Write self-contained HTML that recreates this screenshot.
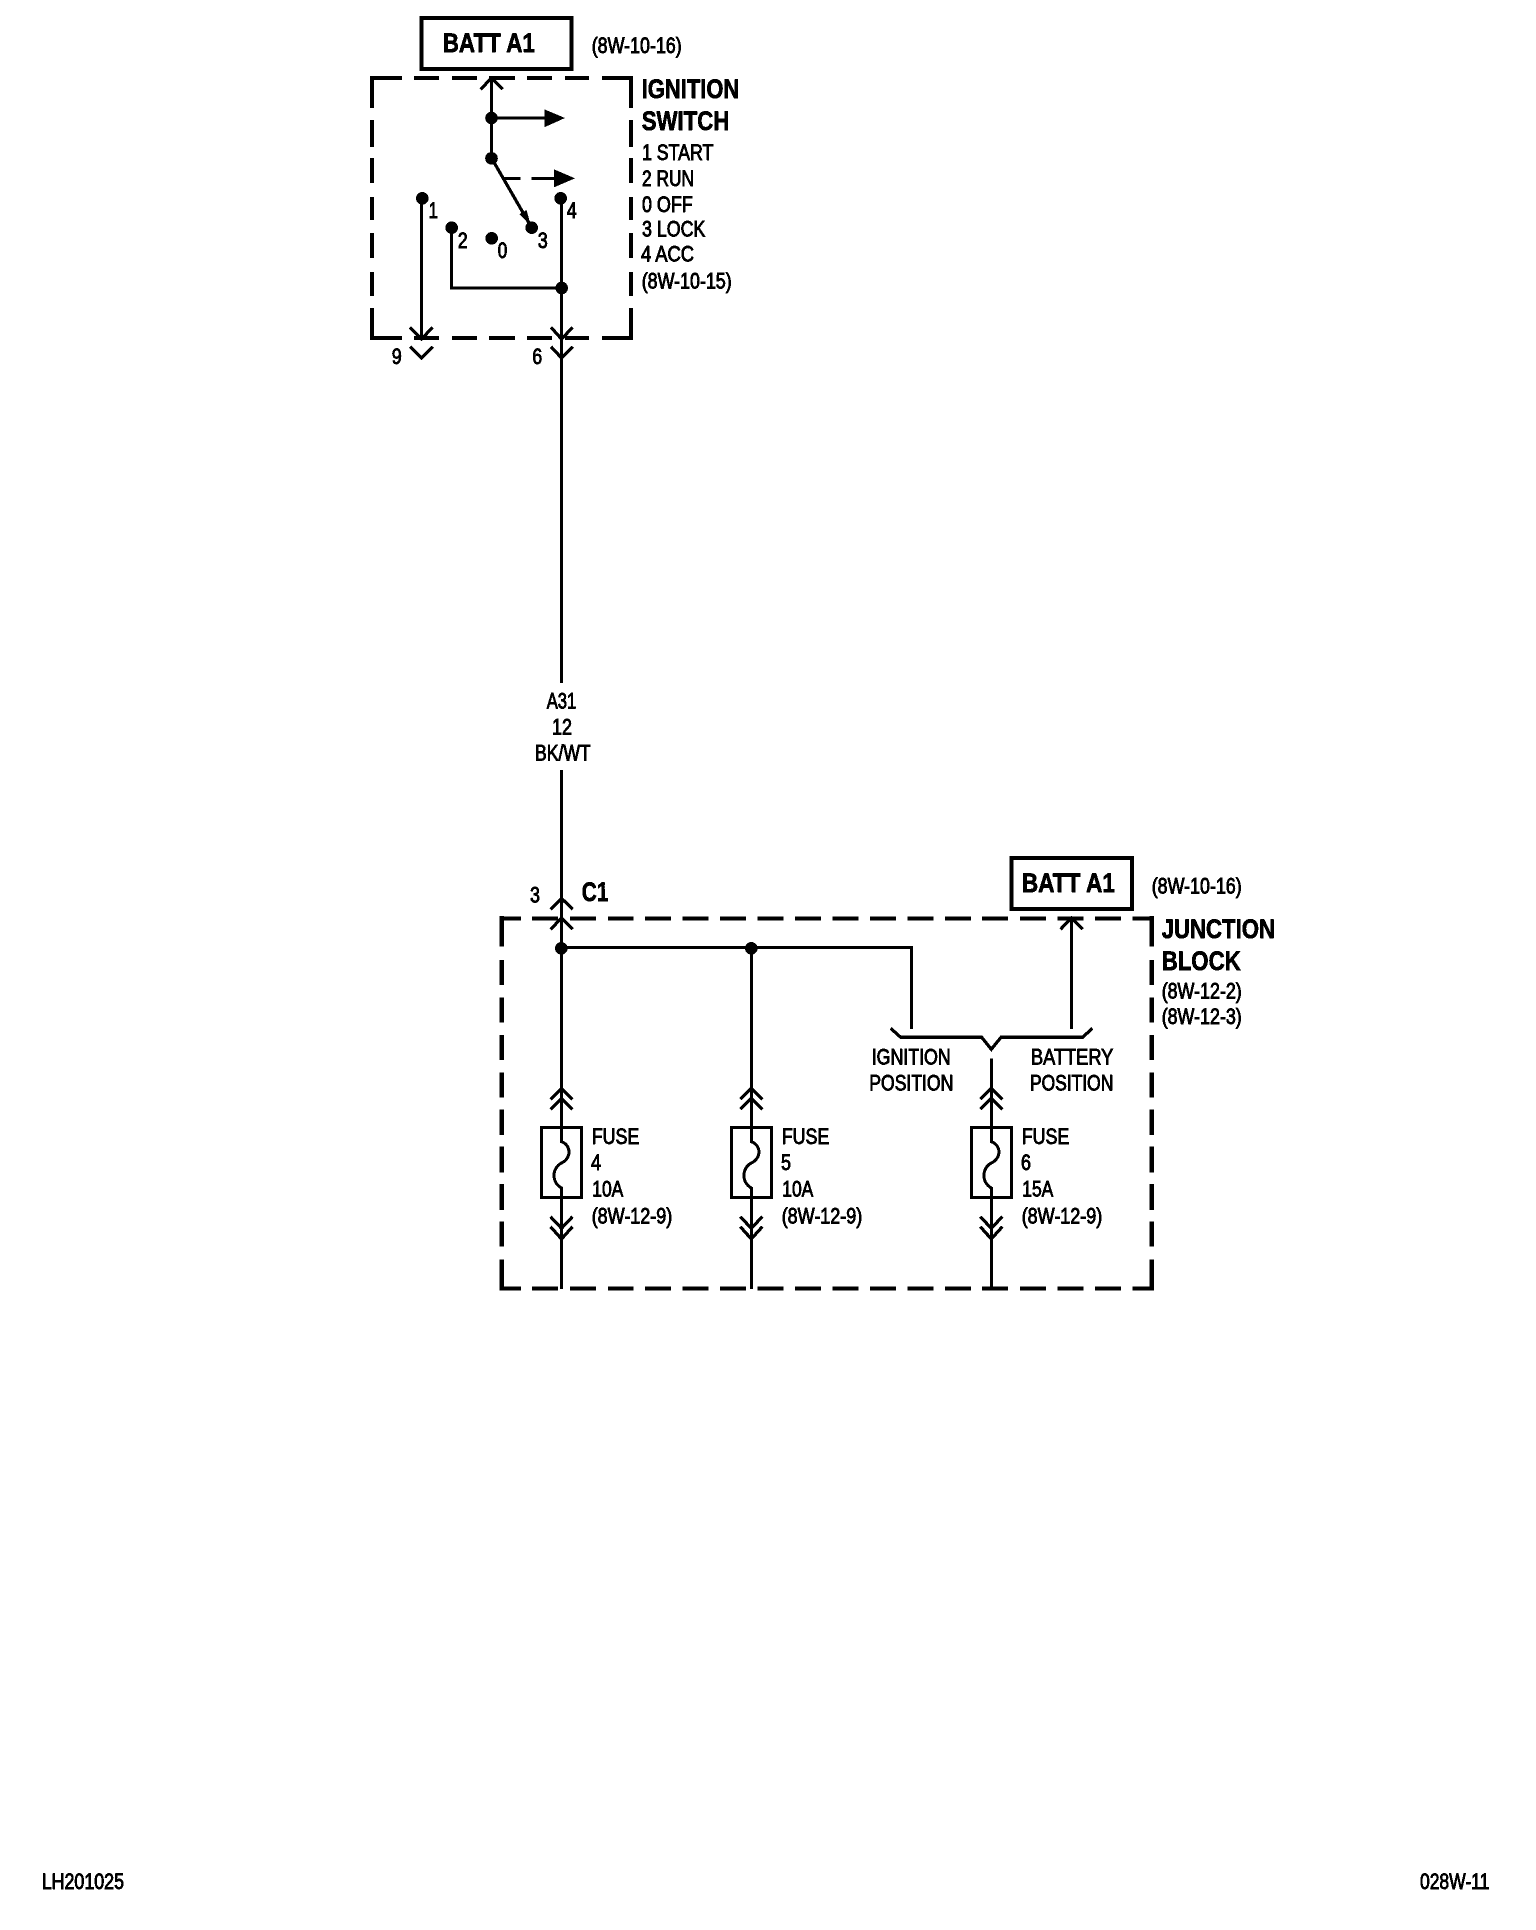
<!DOCTYPE html>
<html><head><meta charset="utf-8"><style>
html,body{margin:0;padding:0;background:#fff}
svg{display:block}
text{font-family:"Liberation Sans",Arial,sans-serif;fill:#000;stroke:#000;stroke-width:.75px}
.r{font-size:22px}
.b{font-size:26.5px;font-weight:bold;stroke-width:.55px}
.w{fill:none;stroke:#000;stroke-width:3}
.c{fill:none;stroke:#000;stroke-width:3.2}
.d{fill:none;stroke:#000;stroke-width:4.4}
</style></head><body>
<svg xmlns="http://www.w3.org/2000/svg" width="1536" height="1930" viewBox="0 0 1536 1930">
<defs><filter id="alias" filterUnits="userSpaceOnUse" x="0" y="0" width="1536" height="1930" color-interpolation-filters="sRGB"><feComponentTransfer><feFuncA type="discrete" tableValues="0 1 1"/></feComponentTransfer></filter></defs>
<rect width="1536" height="1930" fill="#fff"/>
<g shape-rendering="crispEdges">
<rect x="421.5" y="18" width="150" height="51" class="d"/>
<path class="d" d="M369.8 78H402M414 78H439M452 78H477M489 78H515M527 78H552M565 78H589M602 78H633
M633 338H602M589 338H565M552 338H527M515 338H489M477 338H452M439 338H414M402 338H369.8
M372 76V108M372 120V147M372 158V183M372 197V220M372 233V258M372 272V296M372 308V340
M631 76V108M631 120V147M631 158V183M631 197V220M631 233V258M631 272V296M631 308V340"/>
<path class="w" d="M491.5 78V158M491.5 118H545M503 178.3H520.7M531.7 178.3H555
M421.5 198V339M451.7 228V288H561.5M561.5 198V683M561.5 770V1289
M561.5 947.5H911.7V1029M751.3 948V1289M1071.5 918.5V1029
M991.3 1058.3V1289"/>
<path class="c" d="M491.5 158L531.7 227.7
M480.7 89.3L491.5 78L502.7 89.3
M410 327.3L421.5 339L432.7 327.3M410 346.7L421.5 358L432.7 346.7
M551 327.3L561.5 339L572.7 327.3M551 346.7L561.5 358L572.7 346.7
M550.7 909.3L561.5 898.3L572.7 909.3M550.7 929.3L561.5 918L572.7 929.3
M1060.5 929.3L1071.5 918L1082.7 929.3
M890.7 1028.3L900.7 1037.3H981.7L991.3 1049.3L1001 1037.3H1082.7L1092.3 1028.3"/>
<polygon points="544.3,109.3 544.3,127.3 565,118"/>
<polygon points="554,169.3 554,187.3 575,178.3"/>
<polygon points="526.5,210 519.5,214 531,226"/>
<g>
<circle cx="491.5" cy="118" r="6.3"/><circle cx="491.5" cy="158.3" r="6.3"/>
<circle cx="422.3" cy="198.3" r="6.3"/><circle cx="560.7" cy="198.3" r="6.3"/>
<circle cx="451.7" cy="227.7" r="6.3"/><circle cx="491.7" cy="238.3" r="6.3"/>
<circle cx="531.7" cy="227.7" r="6.3"/><circle cx="561.7" cy="288" r="6.3"/>
<circle cx="561.3" cy="948.3" r="6.3"/><circle cx="751.3" cy="948.3" r="6.3"/>
</g>
<rect x="1011.5" y="858" width="120.5" height="51" class="d"/>
<path class="d" d="M499.5 918.5H521M532 918.5H558M570 918.5H596M608 918.5H633.5M645 918.5H671M682.5 918.5H708.5M720 918.5H746M757.5 918.5H783.5M795 918.5H821M832.5 918.5H858.5M870 918.5H896M907.5 918.5H933.5M945 918.5H971M982 918.5H1008M1020 918.5H1046M1057.5 918.5H1083.5M1095 918.5H1121M1132.5 918.5H1153.7
M499.5 1288.5H521M532 1288.5H558M570 1288.5H596M608 1288.5H633.5M645 1288.5H671M682.5 1288.5H708.5M720 1288.5H746M757.5 1288.5H783.5M795 1288.5H821M832.5 1288.5H858.5M870 1288.5H896M907.5 1288.5H933.5M945 1288.5H971M982 1288.5H1008M1020 1288.5H1046M1057.5 1288.5H1083.5M1095 1288.5H1121M1132.5 1288.5H1153.7
M501.7 916V946.7M501.7 960V985M501.7 997.3V1022.7M501.7 1035V1060M501.7 1072.3V1097.3M501.7 1109.3V1135M501.7 1146.7V1172.7M501.7 1184V1210M501.7 1221.7V1246.7M501.7 1259.3V1290.7
M1151.7 916V946.7M1151.7 960V985M1151.7 997.3V1022.7M1151.7 1035V1060M1151.7 1072.3V1097.3M1151.7 1109.3V1135M1151.7 1146.7V1172.7M1151.7 1184V1210M1151.7 1221.7V1246.7M1151.7 1259.3V1290.7"/>
<!-- fuses -->
<g class="c">
<path d="M550.5 1099.3L561.5 1088.3L572.5 1099.3M550.5 1109.3L561.5 1098.3L572.5 1109.3M550.5 1216.7L561.5 1228.3L572.5 1216.7M550.5 1226.7L561.5 1239L572.5 1226.7"/>
<path d="M740.3 1099.3L751.3 1088.3L762.3 1099.3M740.3 1109.3L751.3 1098.3L762.3 1109.3M740.3 1216.7L751.3 1228.3L762.3 1216.7M740.3 1226.7L751.3 1239L762.3 1226.7"/>
<path d="M980.3 1099.3L991.3 1088.3L1002.3 1099.3M980.3 1109.3L991.3 1098.3L1002.3 1109.3M980.3 1216.7L991.3 1228.3L1002.3 1216.7M980.3 1226.7L991.3 1239L1002.3 1226.7"/>
</g>
<rect x="541.5" y="1127.5" width="40" height="70" fill="#fff" stroke="#000" stroke-width="3"/>
<rect x="731.3" y="1127.5" width="40" height="70" fill="#fff" stroke="#000" stroke-width="3"/>
<rect x="971.3" y="1127.5" width="40" height="70" fill="#fff" stroke="#000" stroke-width="3"/>
<path class="w" d="M561.5 1110V1141.7C571 1145 572 1158 561.5 1163C552 1168 551 1182 561.5 1188V1217"/>
<path class="w" d="M751.3 1110V1141.7C761 1145 762 1158 751.3 1163C742 1168 741 1182 751.3 1188V1217"/>
<path class="w" d="M991.3 1110V1141.7C1001 1145 1002 1158 991.3 1163C982 1168 981 1182 991.3 1188V1217"/>
</g>

<g filter="url(#alias)">
<text class="b" x="442.7" y="52" textLength="92.3" lengthAdjust="spacingAndGlyphs">BATT A1</text>
<text class="r" x="591.7" y="53" textLength="90" lengthAdjust="spacingAndGlyphs">(8W-10-16)</text>
<text class="b" x="641.7" y="98" textLength="97.6" lengthAdjust="spacingAndGlyphs">IGNITION</text>
<text class="b" x="641.7" y="130" textLength="87.6" lengthAdjust="spacingAndGlyphs">SWITCH</text>
<text class="r" x="642" y="160" textLength="71.3" lengthAdjust="spacingAndGlyphs">1 START</text>
<text class="r" x="642" y="186" textLength="52" lengthAdjust="spacingAndGlyphs">2 RUN</text>
<text class="r" x="642" y="212" textLength="50.7" lengthAdjust="spacingAndGlyphs">0 OFF</text>
<text class="r" x="642" y="236.7" textLength="63.3" lengthAdjust="spacingAndGlyphs">3 LOCK</text>
<text class="r" x="641" y="261.7" textLength="53" lengthAdjust="spacingAndGlyphs">4 ACC</text>
<text class="r" x="641.7" y="288.5" textLength="90" lengthAdjust="spacingAndGlyphs">(8W-10-15)</text>
<text class="r" x="428.5" y="218" textLength="9.5" lengthAdjust="spacingAndGlyphs">1</text>
<text class="r" x="566.7" y="218" textLength="10" lengthAdjust="spacingAndGlyphs">4</text>
<text class="r" x="457.7" y="248" textLength="10" lengthAdjust="spacingAndGlyphs">2</text>
<text class="r" x="497.7" y="258" textLength="9.5" lengthAdjust="spacingAndGlyphs">0</text>
<text class="r" x="537.7" y="248" textLength="10" lengthAdjust="spacingAndGlyphs">3</text>
<text class="r" x="391.7" y="364" textLength="10" lengthAdjust="spacingAndGlyphs">9</text>
<text class="r" x="532.3" y="364" textLength="10" lengthAdjust="spacingAndGlyphs">6</text>

<text class="r" x="546.7" y="708.3" textLength="29.5" lengthAdjust="spacingAndGlyphs">A31</text>
<text class="r" x="552" y="734.3" textLength="20" lengthAdjust="spacingAndGlyphs">12</text>
<text class="r" x="535" y="760.3" textLength="55.7" lengthAdjust="spacingAndGlyphs">BK/WT</text>

<text class="r" x="530" y="902.3" textLength="10" lengthAdjust="spacingAndGlyphs">3</text>
<text class="b" x="581.7" y="901.2" textLength="26.6" lengthAdjust="spacingAndGlyphs">C1</text>
<text class="b" x="1021.7" y="892" textLength="93.3" lengthAdjust="spacingAndGlyphs">BATT A1</text>
<text class="r" x="1151.7" y="893.3" textLength="90" lengthAdjust="spacingAndGlyphs">(8W-10-16)</text>
<text class="b" x="1161.7" y="938" textLength="113.3" lengthAdjust="spacingAndGlyphs">JUNCTION</text>
<text class="b" x="1161.7" y="970" textLength="79" lengthAdjust="spacingAndGlyphs">BLOCK</text>
<text class="r" x="1161.7" y="998.3" textLength="80" lengthAdjust="spacingAndGlyphs">(8W-12-2)</text>
<text class="r" x="1161.7" y="1024" textLength="80" lengthAdjust="spacingAndGlyphs">(8W-12-3)</text>
<text class="r" x="871.7" y="1064.5" textLength="79" lengthAdjust="spacingAndGlyphs">IGNITION</text>
<text class="r" x="869.3" y="1090.7" textLength="84" lengthAdjust="spacingAndGlyphs">POSITION</text>
<text class="r" x="1031" y="1064.5" textLength="82.3" lengthAdjust="spacingAndGlyphs">BATTERY</text>
<text class="r" x="1030" y="1090.7" textLength="83.3" lengthAdjust="spacingAndGlyphs">POSITION</text>

<text class="r" x="591.7" y="1144" textLength="47.6" lengthAdjust="spacingAndGlyphs">FUSE</text>
<text class="r" x="591" y="1170" textLength="10" lengthAdjust="spacingAndGlyphs">4</text>
<text class="r" x="592.3" y="1196.7" textLength="31" lengthAdjust="spacingAndGlyphs">10A</text>
<text class="r" x="591.7" y="1223.3" textLength="80.6" lengthAdjust="spacingAndGlyphs">(8W-12-9)</text>
<text class="r" x="781.7" y="1144" textLength="47.6" lengthAdjust="spacingAndGlyphs">FUSE</text>
<text class="r" x="781" y="1170" textLength="10" lengthAdjust="spacingAndGlyphs">5</text>
<text class="r" x="782.3" y="1196.7" textLength="31" lengthAdjust="spacingAndGlyphs">10A</text>
<text class="r" x="781.7" y="1223.3" textLength="80.6" lengthAdjust="spacingAndGlyphs">(8W-12-9)</text>
<text class="r" x="1021.7" y="1144" textLength="47.6" lengthAdjust="spacingAndGlyphs">FUSE</text>
<text class="r" x="1021" y="1170" textLength="10" lengthAdjust="spacingAndGlyphs">6</text>
<text class="r" x="1022.3" y="1196.7" textLength="31" lengthAdjust="spacingAndGlyphs">15A</text>
<text class="r" x="1021.7" y="1223.3" textLength="80.6" lengthAdjust="spacingAndGlyphs">(8W-12-9)</text>

<text class="r" x="41.7" y="1889" textLength="82.3" lengthAdjust="spacingAndGlyphs">LH201025</text>
<text class="r" x="1420" y="1889" textLength="69.3" lengthAdjust="spacingAndGlyphs">028W-11</text>
</g>
</svg>
</body></html>
